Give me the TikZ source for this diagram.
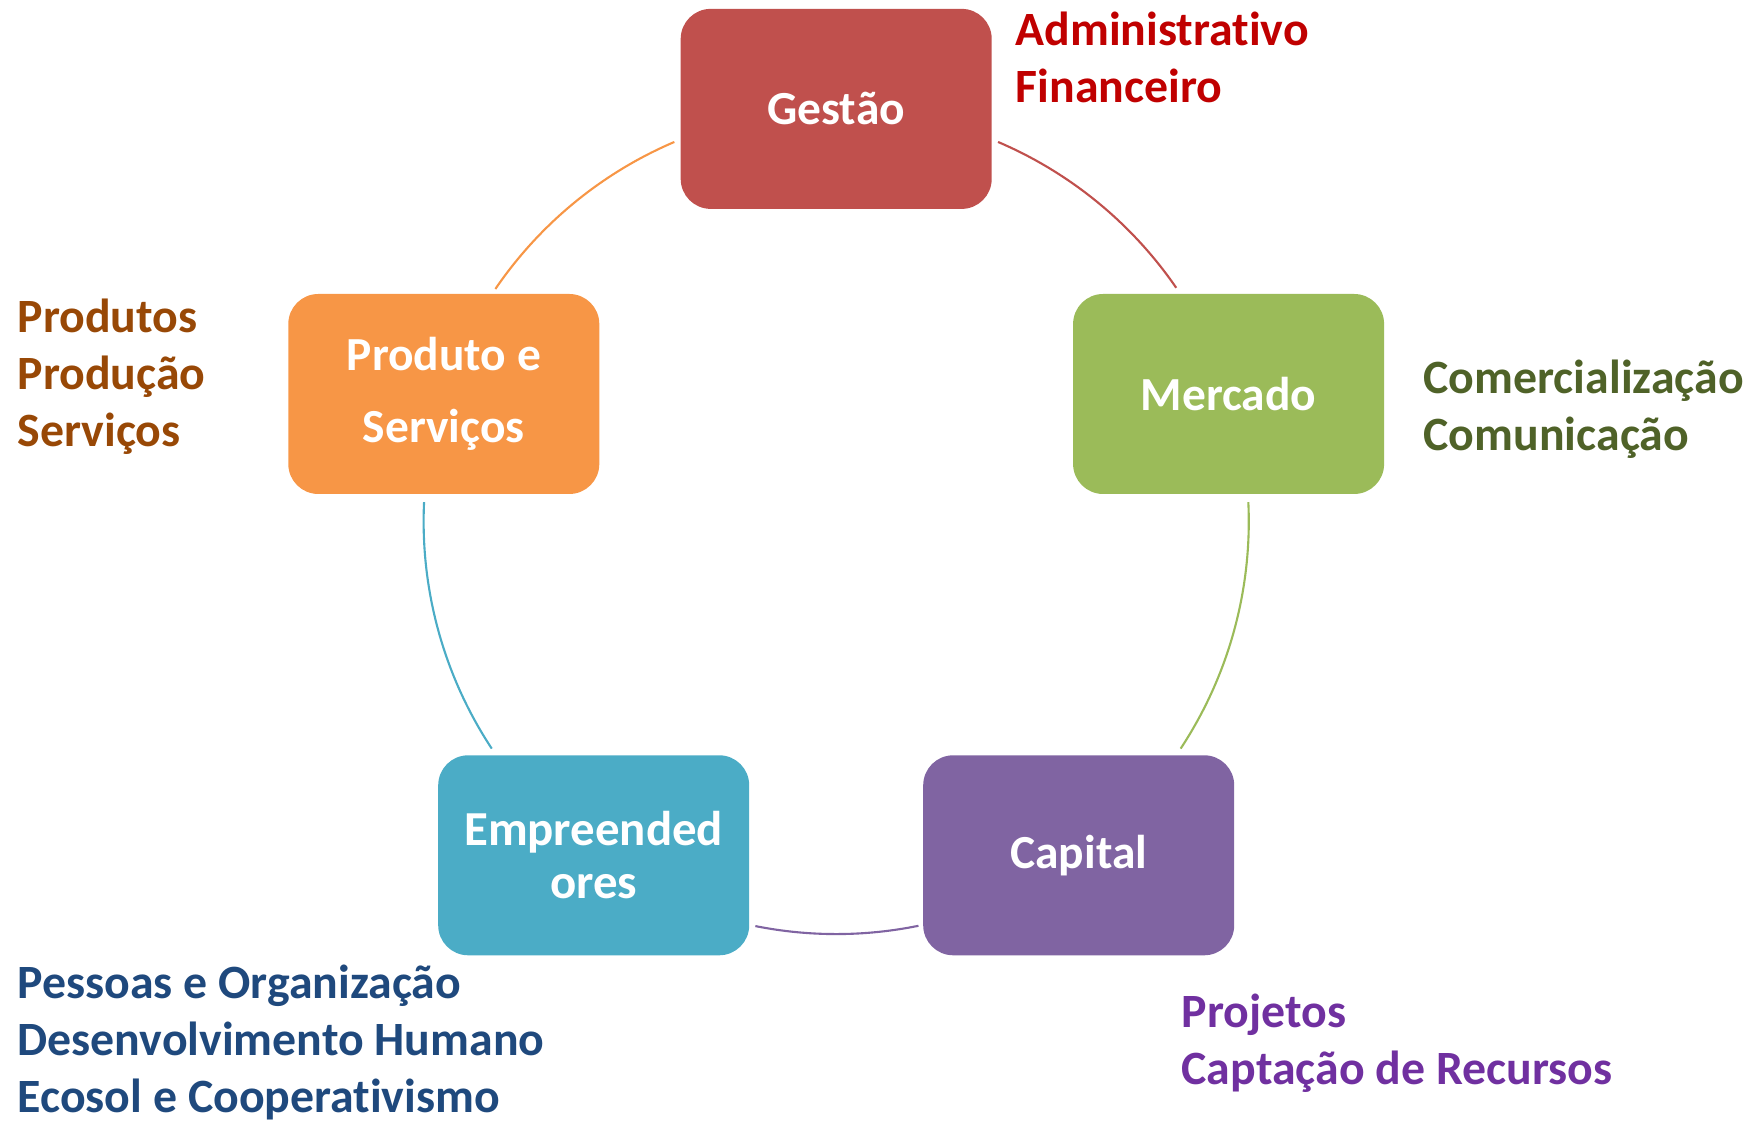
\documentclass[tikz,border=0pt]{standalone}
\usepackage{fontspec}
\setmainfont[Ligatures=CommonOff]{Carlito}
\usepackage{tikz}

\definecolor{gestao}{HTML}{C0504D}
\definecolor{mercado}{HTML}{9BBB59}
\definecolor{capital}{HTML}{8064A2}
\definecolor{empreend}{HTML}{4BACC6}
\definecolor{produto}{HTML}{F79646}
\definecolor{gestaotxt}{HTML}{C00000}
\definecolor{mercadotxt}{HTML}{4F6228}
\definecolor{capitaltxt}{HTML}{7030A0}
\definecolor{empreendtxt}{HTML}{1F497D}
\definecolor{produtotxt}{HTML}{984806}

\begin{document}
\begin{tikzpicture}[
	area/.style={shape=rectangle, rounded corners=0.3cm, minimum width=3.11cm, minimum height=2cm,
		text=white, align=center, font=\fontsize{13.5}{16.2}\selectfont\bfseries},
	note/.style={anchor=base west, align=left, inner sep=0pt, font=\fontsize{13.6}{16.2}\selectfont\bfseries},
	ring/.style={line width=0.6pt}]
	\useasboundingbox (0,0) rectangle (17.6,11.23);
	\coordinate (c) at (8.362,6.015);
	% the five areas
	\node[area, fill=gestao]   (g) at (8.362,10.141) {Gest\~ao};
	\node[area, fill=mercado]  (m) at (12.286,7.290) {Mercado};
	\node[area, fill=capital]  (k) at (10.787,2.677) {Capital};
	\node[area, fill=empreend, font=\fontsize{13.9}{15.1}\selectfont\bfseries] (e) at (5.937,2.677) {Empreended\\ores};
	\node[area, fill=produto]  (p) at (4.438,7.290) {Produto e\\[4.3pt]Servi\c{c}os};
	% what each area covers (base = last line)
	\node[note, text=gestaotxt]   (gn) at (10.15,10.205) {Administrativo\\Financeiro};
	\node[note, text=mercadotxt]  (mn) at (14.23,6.726)  {Comercializa\c{c}\~ao\\Comunica\c{c}\~ao};
	\node[note, text=capitaltxt]  (kn) at (11.81,0.384)  {Projetos\\Capta\c{c}\~ao de Recursos};
	\node[note, text=empreendtxt] (en) at (0.17,0.106)   {Pessoas e Organiza\c{c}\~ao\\Desenvolvimento Humano\\Ecosol e Cooperativismo};
	\node[note, text=produtotxt]  (pn) at (0.17,6.762)   {Produtos\\Produ\c{c}\~ao\\Servi\c{c}os};
	% ring between the areas
	\path (c) ++(66.9:4.126)   coordinate (gm);
	\path (c) ++(2.7:4.126)    coordinate (mk);
	\path (c) ++(-78.5:4.126)  coordinate (ke);
	\path (c) ++(-146.6:4.126) coordinate (ep);
	\path (c) ++(145.7:4.126)  coordinate (pg);
	\path[ring, draw=gestao]   (gm) arc[start angle=66.9, end angle=34.5, radius=4.126];
	\path[ring, draw=mercado]  (mk) arc[start angle=2.7, end angle=-33.4, radius=4.126];
	\path[ring, draw=capital]  (ke) arc[start angle=-78.5, end angle=-101.3, radius=4.126];
	\path[ring, draw=empreend] (ep) arc[start angle=-146.6, end angle=-182.7, radius=4.126];
	\path[ring, draw=produto]  (pg) arc[start angle=145.7, end angle=113.1, radius=4.126];
\end{tikzpicture}
\end{document}
